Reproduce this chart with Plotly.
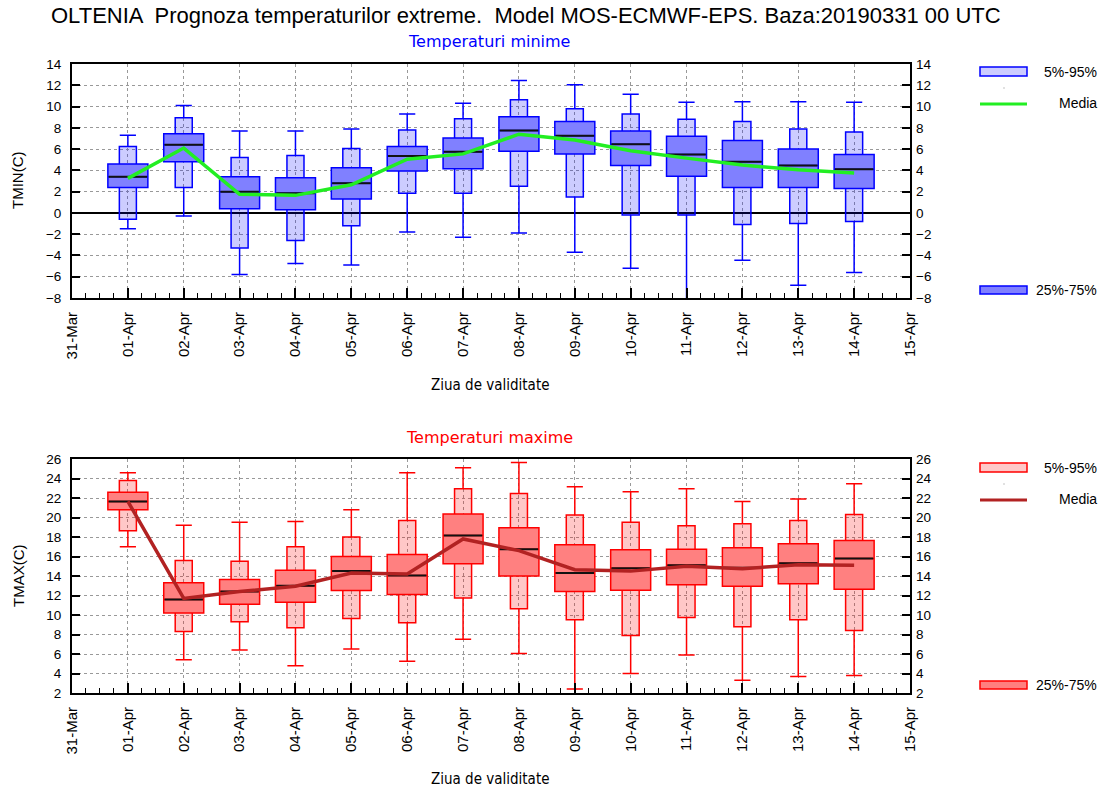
import plotly.graph_objects as go

W, H = 1107, 788

# ---------------- data ----------------
days = list(range(1, 15))
tick_pos = list(range(0, 16))
tick_labels = ["31-Mar", "01-Apr", "02-Apr", "03-Apr", "04-Apr", "05-Apr", "06-Apr", "07-Apr",
               "08-Apr", "09-Apr", "10-Apr", "11-Apr", "12-Apr", "13-Apr", "14-Apr", "15-Apr"]

tmin_wlo = [-1.5, -0.3, -5.8, -4.75, -4.9, -1.8, -2.3, -1.9, -3.7, -5.2, -8.5, -4.45, -6.8, -5.6]
tmin_p05 = [-0.6, 2.4, -3.3, -2.6, -1.2, 1.85, 1.85, 2.5, 1.5, -0.2, -0.2, -1.1, -1.0, -0.8]
tmin_p25 = [2.4, 4.8, 0.4, 0.3, 1.3, 3.95, 4.15, 5.8, 5.55, 4.45, 3.45, 2.4, 2.4, 2.3]
tmin_p50 = [3.4, 6.4, 2.0, 1.85, 2.8, 5.35, 5.75, 7.75, 7.25, 6.45, 5.5, 4.8, 4.45, 4.1]
tmin_p75 = [4.6, 7.45, 3.4, 3.3, 4.25, 6.25, 7.05, 9.05, 8.6, 7.7, 7.2, 6.8, 6.0, 5.5]
tmin_p95 = [6.25, 8.95, 5.2, 5.4, 6.05, 7.8, 8.85, 10.65, 9.8, 9.3, 8.8, 8.6, 7.9, 7.6]
tmin_whi = [7.3, 10.1, 7.7, 7.7, 7.9, 9.3, 10.3, 12.45, 12.05, 11.15, 10.4, 10.45, 10.45, 10.4]
tmin_mean = [3.25, 6.1, 1.75, 1.65, 2.65, 5.05, 5.55, 7.4, 6.85, 5.85, 5.15, 4.5, 4.05, 3.75]

tmax_wlo = [17.0, 5.4, 6.4, 4.8, 6.5, 5.25, 7.5, 6.05, 2.4, 4.0, 5.9, 3.3, 3.7, 3.8]
tmax_p05 = [18.65, 8.3, 9.3, 8.7, 9.65, 9.2, 11.75, 10.65, 9.5, 7.9, 9.75, 8.8, 9.5, 8.4]
tmax_p25 = [20.8, 10.2, 11.1, 11.3, 12.5, 12.1, 15.25, 14.0, 12.4, 12.55, 13.1, 12.95, 13.2, 12.65]
tmax_p50 = [21.65, 11.6, 12.4, 13.0, 14.5, 14.05, 18.15, 16.75, 14.3, 14.8, 15.1, 14.85, 15.3, 15.8]
tmax_p75 = [22.6, 13.3, 13.65, 14.6, 16.0, 16.2, 20.35, 18.95, 17.2, 16.7, 16.75, 16.9, 17.3, 17.65]
tmax_p95 = [23.8, 15.6, 15.5, 17.0, 18.0, 19.7, 22.95, 22.45, 20.25, 19.5, 19.15, 19.35, 19.7, 20.3]
tmax_whi = [24.6, 19.2, 19.5, 19.6, 20.8, 24.6, 25.1, 25.65, 23.15, 22.65, 22.95, 21.65, 21.9, 23.45]
tmax_mean = [21.65, 11.7, 12.4, 12.95, 14.3, 14.2, 17.8, 16.6, 14.65, 14.5, 15.0, 14.75, 15.15, 15.1]

FONT = "Liberation Sans, Arial, sans-serif"
SUBFONT = "DejaVu Sans, Verdana, sans-serif"
NARROWFONT = "Liberation Sans Narrow, DejaVu Sans Condensed, sans-serif"


def fx(x):
    return x / W


def fy(y):
    return 1 - y / H


X_DOM = [fx(72), fx(910)]
TOP_DOM = [fy(298), fy(64)]
BOT_DOM = [fy(693), fy(459)]

NARROW = 0.305
WIDE = 0.716

fig = go.Figure()


def add_panel(xa, ya, wlo, p05, p25, p50, p75, p95, whi, mean, line_col, light, dark, mean_col):
    fig.add_trace(go.Box(x=days, q1=p05, median=p50, q3=p95, lowerfence=wlo, upperfence=whi,
                         width=NARROW, whiskerwidth=0.95, boxpoints=False,
                         fillcolor=light, line=dict(color=line_col, width=1.5),
                         xaxis=xa, yaxis=ya, showlegend=False, hoverinfo="skip"))
    fig.add_trace(go.Box(x=days, q1=p25, median=p50, q3=p75, lowerfence=p25, upperfence=p75,
                         width=WIDE, whiskerwidth=0, boxpoints=False,
                         fillcolor=dark, line=dict(color=line_col, width=1.5),
                         xaxis=xa, yaxis=ya, showlegend=False, hoverinfo="skip"))
    fig.add_trace(go.Box(x=days, q1=p50, median=p50, q3=p50, lowerfence=p50, upperfence=p50,
                         width=WIDE - 0.03, whiskerwidth=0, boxpoints=False,
                         fillcolor="rgba(0,0,0,0)", line=dict(color="#111111", width=2),
                         xaxis=xa, yaxis=ya, showlegend=False, hoverinfo="skip"))
    fig.add_trace(go.Scatter(x=days, y=mean, mode="lines", line=dict(color=mean_col, width=3.5),
                             xaxis=xa, yaxis=ya, showlegend=False, hoverinfo="skip"))


add_panel("x", "y", tmin_wlo, tmin_p05, tmin_p25, tmin_p50, tmin_p75, tmin_p95, tmin_whi, tmin_mean,
          "#0000ff", "rgba(0,0,255,0.2)", "#8080ff", "#22ee22")
add_panel("x2", "y2", tmax_wlo, tmax_p05, tmax_p25, tmax_p50, tmax_p75, tmax_p95, tmax_whi, tmax_mean,
          "#ff0000", "rgba(255,0,0,0.22)", "#ff8080", "#b22222")

# dummy traces so right-hand axes render
fig.add_trace(go.Scatter(x=[1], y=[None], xaxis="x", yaxis="y3", showlegend=False, hoverinfo="skip"))
fig.add_trace(go.Scatter(x=[1], y=[None], xaxis="x2", yaxis="y4", showlegend=False, hoverinfo="skip"))

ytickfont = dict(family=FONT, size=13.5, color="black")
xtickfont = dict(family=FONT, size=15, color="black")

xcommon = dict(range=[0, 15], tickmode="array", tickvals=tick_pos, ticktext=tick_labels,
               tickangle=-90, ticks="inside", ticklen=10, tickwidth=1.5, tickcolor="black",
               ticklabelstandoff=6, automargin=False,
               minor=dict(tick0=0, dtick=0.25, ticks="inside", ticklen=5, tickwidth=1.2,
                          tickcolor="black", showgrid=False),
               showgrid=True, griddash="dot", gridcolor="#999999", gridwidth=1,
               showline=True, mirror=True, linewidth=2, linecolor="black",
               zeroline=False, tickfont=xtickfont, domain=X_DOM, fixedrange=True)

ycommon = dict(dtick=2, ticks="inside", ticklen=8, tickwidth=1.5, tickcolor="black",
               ticklabelstandoff=6, automargin=False,
               showgrid=True, griddash="dot", gridcolor="#999999", gridwidth=1,
               showline=True, mirror=True, linewidth=2, linecolor="black",
               tickfont=ytickfont, fixedrange=True)

yright = dict(side="right", dtick=2, ticks="inside", ticklen=8, tickwidth=1.5, tickcolor="black",
              ticklabelstandoff=5, automargin=False, showgrid=False, zeroline=False, showline=False,
              tickfont=ytickfont, fixedrange=True)

fig.update_layout(
    width=W, height=H,
    margin=dict(l=0, r=0, t=0, b=0, pad=0),
    paper_bgcolor="white", plot_bgcolor="white",
    boxmode="overlay",
    font=dict(family=FONT, color="black"),
    xaxis=dict(anchor="y", **xcommon),
    xaxis2=dict(anchor="y2", **xcommon),
    yaxis=dict(range=[-8, 14], domain=TOP_DOM, anchor="x",
               zeroline=True, zerolinecolor="black", zerolinewidth=1.5, **ycommon),
    yaxis2=dict(range=[2, 26], domain=BOT_DOM, anchor="x2", zeroline=False, **ycommon),
    yaxis3=dict(range=[-8, 14], overlaying="y", anchor="x", **yright),
    yaxis4=dict(range=[2, 26], overlaying="y2", anchor="x2", **yright),
)

ann = []
ann.append(dict(text="OLTENIA  Prognoza temperaturilor extreme.  Model MOS-ECMWF-EPS. Baza:20190331 00 UTC",
                x=fx(526), y=fy(16), xref="paper", yref="paper", showarrow=False,
                font=dict(family=FONT, size=22, color="black"), xanchor="center", yanchor="middle"))
ann.append(dict(text="Temperaturi minime", x=fx(489), y=fy(42), xref="paper", yref="paper",
                showarrow=False, font=dict(family=SUBFONT, size=16, color="#0000ff"),
                xanchor="center", yanchor="middle"))
ann.append(dict(text="Temperaturi maxime", x=fx(489), y=fy(437), xref="paper", yref="paper",
                showarrow=False, font=dict(family=SUBFONT, size=16, color="#ff0000"),
                xanchor="center", yanchor="middle"))
ann.append(dict(text="TMIN(C)", x=fx(18), y=fy(181), xref="paper", yref="paper", textangle=-90,
                showarrow=False, font=dict(family=FONT, size=15), xanchor="center", yanchor="middle"))
ann.append(dict(text="TMAX(C)", x=fx(18), y=fy(576), xref="paper", yref="paper", textangle=-90,
                showarrow=False, font=dict(family=FONT, size=15), xanchor="center", yanchor="middle"))
ann.append(dict(text="Ziua de validitate", x=fx(490), y=fy(385), xref="paper", yref="paper",
                showarrow=False, font=dict(family=NARROWFONT, size=15), xanchor="center", yanchor="middle"))
ann.append(dict(text="Ziua de validitate", x=fx(490), y=fy(779), xref="paper", yref="paper",
                showarrow=False, font=dict(family=NARROWFONT, size=15), xanchor="center", yanchor="middle"))

shapes = []


def legend(y0, line_col, light, mean_col):
    # 5%-95%
    shapes.append(dict(type="rect", xref="paper", yref="paper", x0=fx(980), x1=fx(1027),
                       y0=fy(y0 + 9), y1=fy(y0), fillcolor=light, line=dict(color=line_col, width=1.5)))
    ann.append(dict(text="5%-95%", x=fx(1099), y=fy(y0 + 5), xref="paper", yref="paper",
                    showarrow=False, font=dict(family=FONT, size=14), xanchor="right", yanchor="middle"))
    shapes.append(dict(type="rect", xref="paper", yref="paper", x0=fx(1003.5), x1=fx(1004.5),
                       y0=fy(y0 + 21.5), y1=fy(y0 + 20.5), fillcolor="#888888", line=dict(width=0)))
    shapes.append(dict(type="line", xref="paper", yref="paper", x0=fx(980), x1=fx(1027),
                       y0=fy(y0 + 37), y1=fy(y0 + 37), line=dict(color=mean_col, width=3)))
    ann.append(dict(text="Media", x=fx(1099), y=fy(y0 + 36), xref="paper", yref="paper",
                    showarrow=False, font=dict(family=FONT, size=14), xanchor="right", yanchor="middle"))


def legend2(yc, line_col, dark):
    shapes.append(dict(type="rect", xref="paper", yref="paper", x0=fx(980), x1=fx(1027),
                       y0=fy(yc + 4), y1=fy(yc - 4), fillcolor=dark, line=dict(color=line_col, width=1.5)))
    ann.append(dict(text="25%-75%", x=fx(1099), y=fy(yc), xref="paper", yref="paper",
                    showarrow=False, font=dict(family=FONT, size=14), xanchor="right", yanchor="middle"))


legend(67, "#0000ff", "#ccccff", "#22ee22")
legend2(290, "#0000ff", "#8080ff")
legend(463, "#ff0000", "#ffc8c8", "#b22222")
legend2(685, "#ff0000", "#ff8080")

fig.update_layout(annotations=ann, shapes=shapes)

fig.write_html("out.html", config={"displayModeBar": False},
               post_script="document.body.style.margin='0';document.body.style.overflow='hidden';")
